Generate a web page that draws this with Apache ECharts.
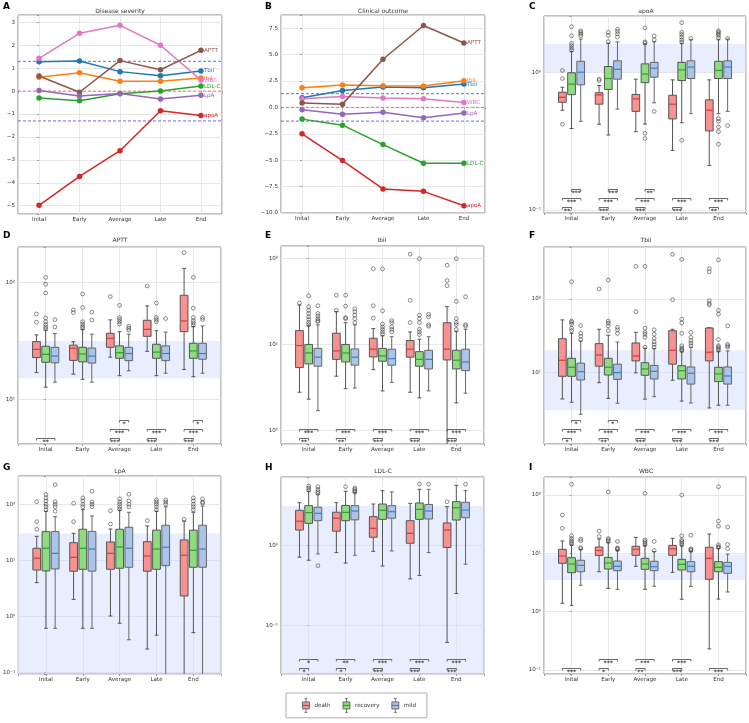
<!DOCTYPE html>
<html>
<head>
<meta charset="utf-8">
<script src="https://cdn.jsdelivr.net/npm/echarts@6/dist/echarts.min.js"></script>
<style>
html, body { margin: 0; padding: 0; background: #fff; }
#main { width: 749px; height: 723px; }
</style>
</head>
<body>
<div id="main"></div>
<script>
var stages = ['Inital', 'Early', 'Average', 'Late', 'End'];

// A - disease severity
var sevTbil = [1.28, 1.31, 0.85, 0.67, 0.88];
var sevIbil = [0.60, 0.80, 0.43, 0.43, 0.57];
var sevWBC = [1.43, 2.52, 2.87, 2.00, 0.48];
var sevAPTT = [0.66, -0.05, 1.33, 0.93, 1.78];
var sevLDLC = [-0.30, -0.42, -0.11, 0.00, 0.22];
var sevLpA = [0.03, -0.21, -0.10, -0.34, -0.18];
var sevApoA = [-4.98, -3.72, -2.60, -0.86, -1.06];

// B - clinical outcome
var outTbil = [0.92, 1.61, 1.93, 1.87, 2.21];
var outIbil = [1.87, 2.12, 2.06, 2.02, 2.53];
var outWBC = [0.82, 1.04, 0.88, 0.82, 0.47];
var outAPTT = [0.41, 0.31, 4.56, 7.76, 6.10];
var outLDLC = [-1.11, -1.68, -3.52, -5.29, -5.29];
var outLpA = [-0.22, -0.64, -0.45, -0.98, -0.54];
var outApoA = [-2.50, -5.04, -7.72, -7.95, -9.31];

var sigLevel = [1.3, -1.3];
var zeroLevel = [0];

// box stats: [min, q1, median, q3, max] per stage
var apoaDeath = [[0.53, 0.605, 0.658, 0.716, 0.778], [0.419, 0.586, 0.684, 0.71, 0.80], [0.37, 0.52, 0.64, 0.69, 0.89], [0.27, 0.458, 0.586, 0.68, 0.88], [0.21, 0.375, 0.53, 0.63, 0.88]];
var apoaRecovery = [[0.39, 0.687, 0.82, 0.99, 1.41], [0.35, 0.75, 0.90, 1.10, 1.62], [0.42, 0.84, 0.97, 1.15, 1.60], [0.43, 0.87, 1.04, 1.18, 1.62], [0.50, 0.90, 1.03, 1.20, 1.72]];
var apoaMild = [[0.44, 0.81, 1.0, 1.20, 1.74], [0.54, 0.89, 1.05, 1.21, 1.66], [0.60, 0.92, 1.07, 1.18, 1.66], [0.50, 0.90, 1.09, 1.21, 1.72], [0.52, 0.90, 1.09, 1.21, 1.74]];
var apoaDeathOut = [[0, 1.03], [0, 0.90], [0, 0.419], [1, 0.89], [1, 0.87]];
var apoaRecoveryOut = [[0, 2.14], [0, 1.84], [0, 1.62], [0, 1.56], [0, 1.5], [0, 1.45], [1, 1.95], [1, 1.85], [1, 1.67], [2, 2.1], [2, 1.66], [2, 1.63], [2, 0.36], [2, 0.33], [3, 2.29], [3, 1.95], [3, 1.88], [3, 1.8], [3, 1.72], [3, 1.66], [3, 0.32], [4, 2.0], [4, 1.95], [4, 1.9], [4, 1.85], [4, 1.78], [4, 0.46], [4, 0.44], [4, 0.40], [4, 0.37], [4, 0.30]];
var apoaMildOut = [[0, 2.0], [0, 1.95], [0, 1.9], [0, 1.84], [1, 2.05], [1, 1.98], [1, 1.9], [1, 1.8], [2, 1.83], [2, 1.72], [2, 0.52], [3, 1.76], [4, 1.76], [4, 0.41]];
var apoaBrackets = [[0, 'dr', '**'], [0, 'dm', '***'], [0, 'rm', '***'], [1, 'dr', '***'], [1, 'dm', '***'], [1, 'rm', '***'], [2, 'dr', '***'], [2, 'dm', '***'], [2, 'rm', '**'], [3, 'dr', '***'], [3, 'dm', '***'], [4, 'dr', '**'], [4, 'dm', '***']];
var apoaNormal = [1.0, 1.6];

var apttDeath = [[16.9, 22.7, 26.7, 31.1, 35.5], [16.4, 21.5, 27.3, 29, 31], [22.9, 27.8, 33.2, 36.6, 47.7], [25.7, 34.5, 39.6, 47.3, 62.7], [18.0, 37.8, 46.7, 77.4, 131.5]];
var apttRecovery = [[12.7, 20.7, 24.2, 28.4, 38.9], [14.8, 20.9, 24.4, 27.8, 39.6], [15.9, 22.4, 25, 28.6, 37.8], [15.9, 22.4, 25.3, 29.5, 38.5], [15.6, 22.4, 25.9, 30.1, 41.8]];
var apttMild = [[14, 20.5, 23.4, 27.8, 36.4], [14, 20.4, 23.4, 27.4, 36], [17.5, 21.4, 24.6, 27.8, 36], [16.7, 21.4, 24.6, 28.6, 37.5], [16.7, 22, 24.6, 30.1, 42.3]];
var apttDeathOut = [[0, 53.6], [0, 45.5], [1, 58], [1, 55], [2, 75.3], [3, 93], [4, 179]];
var apttRecoveryOut = [[0, 110], [0, 96], [0, 81], [0, 49.5], [0, 46], [0, 43.5], [0, 41.5], [0, 40], [1, 79.4], [1, 60.7], [1, 46], [1, 44], [1, 42], [1, 40.5], [2, 63.5], [2, 50], [2, 48], [2, 46], [2, 44], [3, 66.5], [3, 50], [3, 48], [3, 46], [4, 110], [4, 60], [4, 50], [4, 47], [4, 45], [4, 43]];
var apttMildOut = [[0, 47.9], [0, 41.5], [1, 55.5], [1, 47.5], [2, 42], [2, 40.5], [2, 39], [3, 48.9], [4, 50], [4, 48]];
var apttBrackets = [[0, 'dm', '**'], [2, 'dr', '***'], [2, 'dm', '***'], [2, 'rm', '*'], [3, 'dr', '***'], [3, 'dm', '***'], [4, 'dr', '***'], [4, 'dm', '***'], [4, 'rm', '*']];
var apttNormal = [15.1, 31.5];

var ibilDeath = [[2.77, 5.37, 9.7, 14.5, 28.8], [4.26, 6.7, 8.4, 13.5, 24.1], [5.08, 7.15, 8.8, 11.8, 15.3], [2.77, 7.1, 8.8, 11.1, 14], [0.3, 6.6, 8.8, 17.9, 27.6]];
var ibilRecovery = [[2.3, 5.93, 7.96, 10, 16.5], [3.05, 6.25, 7.96, 10, 17.9], [2.87, 6.37, 7.35, 9.0, 12.6], [2.38, 5.57, 6.7, 8.24, 11.5], [2.08, 5.18, 6.55, 8.55, 14.1]];
var ibilMild = [[1.69, 5.57, 7.1, 9.0, 16.9], [3.1, 5.73, 7.1, 8.87, 16.9], [3.62, 5.73, 6.83, 8.8, 12.3], [2.87, 5.18, 6.7, 8.55, 12.3], [2.7, 4.95, 6.25, 8.8, 15]];
var ibilDeathOut = [[0, 30.5], [1, 37.5], [1, 25], [2, 76.4], [2, 28.3], [2, 20.3], [3, 113], [3, 32.7], [3, 18], [4, 83.8], [4, 55.5], [4, 48.4]];
var ibilRecoveryOut = [[0, 37], [0, 27.6], [0, 25], [0, 23], [0, 21], [0, 19.5], [0, 18], [0, 17], [1, 37.5], [1, 28], [1, 20.5], [1, 20], [2, 76], [2, 24.7], [2, 17.3], [2, 16], [2, 15], [2, 14], [2, 13.2], [3, 100], [3, 22], [3, 20], [3, 18], [3, 15], [3, 14], [3, 13], [4, 100], [4, 31.8], [4, 20], [4, 18], [4, 17], [4, 15]];
var ibilMildOut = [[0, 28.3], [0, 23], [0, 21.5], [0, 20], [0, 19], [0, 18.5], [1, 26], [1, 24], [1, 22], [1, 20], [1, 18], [2, 19], [2, 18], [2, 16], [2, 15], [2, 14], [3, 22.5], [3, 21], [3, 17], [3, 16.3], [4, 36], [4, 17], [4, 16.3]];
var ibilBrackets = [[0, 'dr', '**'], [0, 'dm', '***'], [1, 'dr', '**'], [1, 'dm', '***'], [2, 'dr', '***'], [2, 'dm', '***'], [3, 'dr', '***'], [3, 'dm', '***'], [4, 'dr', '***'], [4, 'dm', '***']];
var ibilNormal = null;

var tbilDeath = [[4.32, 8.81, 14.6, 28.7, 51.8], [7.2, 12.1, 17.2, 24.6, 38.6], [9.8, 14.3, 16.7, 25.1, 35.1], [7.8, 12.9, 19.9, 36.9, 38.6], [3.26, 14.3, 18.8, 40.2, 40.5]];
var tbilRecovery = [[3.9, 8.81, 11.7, 15.5, 34], [4.4, 9.18, 11.7, 15.5, 32], [4.3, 9.1, 11.1, 13.5, 21.2], [4.05, 8.1, 10.5, 12.3, 19], [3.55, 7.45, 9.5, 11.7, 19.1]];
var tbilMild = [[2.67, 7.85, 10.2, 13.3, 26.7], [3.78, 8.0, 9.9, 12.9, 25.8], [4.65, 8.1, 10.3, 12.4, 21], [3.81, 6.9, 9.7, 11.8, 22], [3.55, 6.9, 8.9, 11.8, 19.5]];
var tbilDeathOut = [[1, 137], [2, 279], [2, 67.2], [3, 407], [3, 98], [4, 260], [4, 235], [4, 95], [4, 87], [4, 83]];
var tbilRecoveryOut = [[0, 172], [0, 50], [0, 48], [0, 45], [0, 40], [0, 37], [1, 181], [1, 50], [1, 47], [1, 43], [1, 37], [2, 279], [2, 40], [2, 35], [2, 33], [2, 30], [2, 22], [3, 347], [3, 53], [3, 47], [3, 34], [3, 23], [3, 21.5], [3, 20.5], [3, 19.8], [4, 343], [4, 70], [4, 62], [4, 28], [4, 23], [4, 22], [4, 21], [4, 20]];
var tbilMildOut = [[0, 43.3], [0, 34], [0, 31], [0, 28], [1, 41], [1, 38], [1, 34], [2, 38], [2, 33], [2, 29], [2, 26], [2, 24], [2, 22], [3, 35], [3, 30], [3, 27], [3, 25], [3, 23], [4, 43], [4, 24], [4, 23], [4, 22]];
var tbilBrackets = [[0, 'dr', '*'], [0, 'dm', '***'], [0, 'rm', '*'], [1, 'dr', '**'], [1, 'dm', '***'], [1, 'rm', '*'], [2, 'dr', '***'], [2, 'dm', '***'], [3, 'dr', '***'], [3, 'dm', '***'], [4, 'dr', '***'], [4, 'dm', '***']];
var tbilNormal = [3.06, 20];

var lpaDeath = [[3.98, 6.7, 10.9, 16.4, 26.8], [2.0, 6.37, 11.3, 20.6, 30.3], [1.01, 6.9, 13.3, 21.2, 36.2], [0.26, 6.37, 11.9, 21.5, 41], [0.05, 2.3, 12.3, 23.1, 50]];
var lpaRecovery = [[0.61, 6.44, 16.4, 32.5, 75], [0.61, 6.9, 16.4, 35.8, 80], [0.75, 7.2, 17.3, 35.8, 78], [0.46, 6.9, 15.9, 34.5, 75], [0.51, 7.5, 15.1, 34.5, 72]];
var lpaMild = [[0.61, 7.0, 13.3, 32.5, 60], [0.61, 6.4, 15.9, 32.8, 62], [0.38, 7.5, 16.4, 38.8, 72], [0.05, 8.0, 17.1, 42.2, 90], [0.05, 7.5, 15.9, 42.2, 93]];
var lpaDeathOut = [[0, 111], [0, 48.9], [0, 35.8], [1, 104], [1, 48.9], [2, 76.8], [2, 44.5], [3, 51], [4, 54]];
var lpaRecoveryOut = [[0, 150], [0, 130], [0, 115], [0, 100], [0, 90], [0, 80], [1, 130], [1, 115], [1, 100], [1, 90], [2, 125], [2, 110], [2, 100], [2, 90], [2, 82], [3, 120], [3, 110], [3, 100], [3, 90], [3, 80], [4, 130], [4, 115], [4, 100], [4, 90], [4, 80]];
var lpaMildOut = [[0, 224], [0, 111], [0, 100], [0, 90], [0, 75], [1, 171], [1, 110], [1, 100], [1, 90], [2, 151], [2, 115], [2, 100], [2, 90], [3, 120], [3, 110], [3, 100], [4, 125], [4, 110], [4, 105]];
var lpaBrackets = [];
var lpaNormal = [0.093, 30];

var ldlDeath = [[0.71, 1.55, 2.0, 2.74, 3.41], [0.81, 1.5, 2.18, 2.59, 3.41], [0.84, 1.26, 1.63, 2.28, 3.28], [0.38, 1.06, 1.41, 2.03, 3.34], [0.061, 0.94, 1.55, 1.9, 3.04]];
var ldlRecovery = [[0.65, 1.88, 2.56, 3.13, 4.73], [0.6, 2.03, 2.58, 3.15, 4.73], [0.55, 2.11, 2.74, 3.28, 4.82], [0.42, 2.11, 2.82, 3.38, 5.0], [0.25, 2.07, 2.95, 3.51, 5.62]];
var ldlMild = [[0.78, 2.03, 2.51, 2.99, 4.35], [0.75, 2.08, 2.68, 3.13, 4.55], [0.85, 2.18, 2.63, 3.13, 4.65], [0.81, 2.13, 2.68, 3.24, 5.0], [0.58, 2.21, 2.76, 3.45, 4.82]];
var ldlDeathOut = [[4, 3.5]];
var ldlRecoveryOut = [[0, 5.5], [0, 5.2], [0, 4.9], [1, 5.4], [3, 5.84]];
var ldlMildOut = [[0, 5.4], [0, 5.0], [0, 4.7], [0, 4.45], [0, 0.556], [1, 5.2], [1, 5.0], [1, 4.8], [1, 4.6], [3, 5.8], [4, 5.79]];
var ldlBrackets = [[0, 'dr', '*'], [0, 'dm', '*'], [1, 'dr', '*'], [1, 'dm', '**'], [2, 'dr', '***'], [2, 'dm', '***'], [3, 'dr', '***'], [3, 'dm', '***'], [4, 'dr', '***'], [4, 'dm', '***']];
var ldlNormal = [0.0246, 3.1];

var wbcDeath = [[1.39, 6.75, 9.0, 11.7, 16.3], [4.83, 9.2, 11.2, 12.8, 17.6], [5.98, 9.25, 11.7, 13.2, 18.8], [4.72, 9.25, 12.0, 13.7, 18.1], [0.229, 3.58, 8.2, 12.7, 21.4]];
var wbcRecovery = [[1.28, 4.65, 6.57, 8.4, 13.9], [2.51, 5.38, 6.83, 8.5, 15.2], [2.41, 5.32, 6.57, 8.2, 13.5], [1.63, 5.18, 6.47, 7.89, 13.5], [1.64, 4.83, 5.75, 7.2, 12.2]];
var wbcMild = [[2.83, 4.83, 6.22, 7.6, 11.7], [2.41, 5.04, 5.98, 7.38, 11.1], [2.72, 5.04, 5.9, 7.3, 10.7], [2.7, 4.83, 5.98, 7.2, 10.7], [2.17, 4.54, 5.98, 7.0, 9.7]];
var wbcDeathOut = [[0, 45.4], [0, 26.9], [1, 24.1], [1, 19.5]];
var wbcRecoveryOut = [[0, 153], [0, 20], [0, 18], [0, 16.5], [0, 15.5], [0, 14.5], [1, 113], [1, 18], [1, 17], [1, 16], [2, 107], [2, 17], [2, 16], [2, 15], [2, 14], [3, 100], [3, 20], [3, 17], [3, 16], [3, 15], [3, 14], [4, 139], [4, 35.8], [4, 29.2], [4, 14], [4, 13], [4, 12.6]];
var wbcMildOut = [[0, 17.6], [0, 16.5], [0, 12.5], [0, 12.1], [1, 16], [1, 12.4], [1, 12], [1, 11.6], [2, 16], [2, 11.2], [3, 20.4], [3, 12], [3, 11.6], [3, 11.2], [4, 28.3], [4, 14.2], [4, 12]];
var wbcBrackets = [[0, 'dm', '***'], [1, 'dr', '*'], [1, 'dm', '***'], [2, 'dr', '**'], [2, 'dm', '***'], [3, 'dr', '***'], [3, 'dm', '***'], [4, 'dm', '***']];
var wbcNormal = [3.5, 9.5];

// ---------------------------------------------------------------
var FONT = 'DejaVu Sans';
var BOX_W = 0.21;
var PAIRS = { dr: [-0.25, 0], dm: [-0.25, 0.25], rm: [0, 0.25] };
var hues = [
  { name: 'death', shift: -0.25, fill: '#f99191', mid: '#e0363c', edge: '#555555' },
  { name: 'recovery', shift: 0, fill: '#8fdc80', mid: '#2f9e2f', edge: '#555555' },
  { name: 'mild', shift: 0.25, fill: '#abc5ea', mid: '#3b7fd0', edge: '#666666' }
];
var SUP = { '-': '\u207b', '0': '\u2070', '1': '\u00b9', '2': '\u00b2', '3': '\u00b3' };

function powLabel(v) {
  var l = Math.log(v) / Math.LN10, e = Math.round(l);
  if (Math.abs(l - e) > 1e-6) return '';
  return '10' + String(e).split('').map(function (c) { return SUP[c] || c; }).join('');
}
function minus(s) { return String(s).replace('-', '\u2212'); }

var grids = [], xAxes = [], yAxes = [], series = [], graphics = [];

function addGrid(g) {
  grids.push({ left: g[0], top: g[1], width: g[2], height: g[3], show: true,
    borderColor: '#666', borderWidth: 0.8, backgroundColor: 'transparent' });
  return grids.length - 1;
}
function addX(gi, lo, hi) {
  xAxes.push({ type: 'value', gridIndex: gi, min: lo, max: hi, splitNumber: 5,
    axisLine: { show: false },
    axisTick: { show: true, length: 2, lineStyle: { color: '#666', width: 0.6 } },
    axisLabel: { fontSize: 5.6, color: '#333', margin: 3, fontFamily: FONT,
      formatter: function (v) {
        var r = Math.round(v);
        return (Math.abs(v - r) < 1e-6 && r >= 0 && r < stages.length) ? stages[r] : '';
      } },
    splitLine: { show: true, lineStyle: { color: '#e2e2e2', width: 0.8 } } });
}
function addTitle(x, y, text) {
  graphics.push({ type: 'text', style: { text: text, x: x, y: y, textAlign: 'center', align: 'center',
    textVerticalAlign: 'middle', verticalAlign: 'middle', font: '6px ' + FONT, fill: '#333' } });
}
function addLetter(x, y, text) {
  graphics.push({ type: 'text', style: { text: text, x: x, y: y, textAlign: 'left', align: 'left',
    textVerticalAlign: 'middle', verticalAlign: 'middle', font: 'bold 9px ' + FONT, fill: '#000' } });
}
// dashed horizontal reference lines across the whole plot
function refLines(gi, values, color) {
  series.push({ type: 'custom', name: 'ref' + gi + color, xAxisIndex: gi, yAxisIndex: gi, z: 1, silent: true,
    data: values.map(function (v) { return [0, v]; }),
    renderItem: function (params, api) {
      var cs = params.coordSys;
      var y = api.coord([0, api.value(1)])[1];
      return { type: 'line', shape: { x1: cs.x, y1: y, x2: cs.x + cs.width, y2: y },
        style: { stroke: color, lineWidth: 0.8, lineDash: [3, 2] } };
    } });
}

// line panels
var lineColors = { Tbil: '#1f77b4', Ibil: '#ff7f0e', WBC: '#e377c2', APTT: '#8c564b', 'LDL-C': '#2ca02c', LpA: '#9467bd', apoA: '#d62728' };
var linePanels = [
  { title: 'Disease severity', letter: 'A', grid: [18, 15, 204, 199], y: [-5.36, 3.32], step: 1, tx: 120, ty: 11, lx: 3, ly: 7,
    lines: { Tbil: sevTbil, Ibil: sevIbil, WBC: sevWBC, APTT: sevAPTT, 'LDL-C': sevLDLC, LpA: sevLpA, apoA: sevApoA } },
  { title: 'Clinical outcome', letter: 'B', grid: [281, 15, 204, 198], y: [-10, 8.75], step: 2.5, tx: 383, ty: 11, lx: 265, ly: 7,
    lines: { Tbil: outTbil, Ibil: outIbil, WBC: outWBC, APTT: outAPTT, 'LDL-C': outLDLC, LpA: outLpA, apoA: outApoA } }
];

linePanels.forEach(function (p) {
  var gi = addGrid(p.grid);
  addX(gi, -0.52, 4.52);
  var yAx = { type: 'value', gridIndex: gi, min: p.y[0], max: p.y[1],
    axisLine: { show: false },
    axisTick: { show: true, length: 2, lineStyle: { color: '#666', width: 0.6 } },
    axisLabel: { fontSize: 5.6, color: '#333', margin: 3, fontFamily: FONT,
      formatter: function (v) {
        var k = v / p.step, r = Math.round(k);
        if (Math.abs(k - r) > 1e-6) return '';
        return minus(p.step === 1 ? String(Math.round(v)) : v.toFixed(1));
      } },
    splitLine: { show: true, lineStyle: { color: '#e2e2e2', width: 0.8 } } };
  if (p.step === 1) { yAx.splitNumber = 8; } else { yAx.interval = p.step; }
  yAxes.push(yAx);
  refLines(gi, sigLevel, '#4343ff');
  refLines(gi, zeroLevel, '#ff4d4d');
  Object.keys(p.lines).forEach(function (name) {
    var c = lineColors[name];
    series.push({ type: 'line', name: name, xAxisIndex: gi, yAxisIndex: gi, z: 3,
      data: p.lines[name].map(function (v, i) { return [i, v]; }),
      symbol: 'circle', symbolSize: 5.5, lineStyle: { width: 1.5, color: c }, itemStyle: { color: c },
      endLabel: { show: true, formatter: '{a}', color: c, fontSize: 5.6, fontFamily: FONT, distance: 3 } });
  });
  addTitle(p.tx, p.ty, p.title);
  addLetter(p.lx, p.ly, p.letter);
});

// box panels
var boxPanels = [
  { title: 'apoA', letter: 'C', grid: [544, 16, 204, 197], y: [0.095, 2.56], tx: 646, ty: 11, lx: 529, ly: 7,
    stats: [apoaDeath, apoaRecovery, apoaMild], outs: [apoaDeathOut, apoaRecoveryOut, apoaMildOut], br: apoaBrackets, band: apoaNormal },
  { title: 'APTT', letter: 'D', grid: [18, 247, 203, 197], y: [4.15, 200], tx: 120, ty: 240, lx: 3, ly: 236,
    stats: [apttDeath, apttRecovery, apttMild], outs: [apttDeathOut, apttRecoveryOut, apttMildOut], br: apttBrackets, band: apttNormal },
  { title: 'Ibil', letter: 'E', grid: [281, 246, 203, 198], y: [0.69, 140.6], tx: 382, ty: 240, lx: 265, ly: 236,
    stats: [ibilDeath, ibilRecovery, ibilMild], outs: [ibilDeathOut, ibilRecoveryOut, ibilMildOut], br: ibilBrackets, band: ibilNormal },
  { title: 'Tbil', letter: 'F', grid: [544, 247, 204, 197], y: [1.05, 512], tx: 646, ty: 240, lx: 529, ly: 236,
    stats: [tbilDeath, tbilRecovery, tbilMild], outs: [tbilDeathOut, tbilRecoveryOut, tbilMildOut], br: tbilBrackets, band: tbilNormal },
  { title: 'LpA', letter: 'G', grid: [18, 476, 203, 198], y: [0.093, 320], tx: 120, ty: 471, lx: 3, ly: 468,
    stats: [lpaDeath, lpaRecovery, lpaMild], outs: [lpaDeathOut, lpaRecoveryOut, lpaMildOut], br: lpaBrackets, band: lpaNormal },
  { title: 'LDL-C', letter: 'H', grid: [281, 477, 203, 197], y: [0.0246, 7.14], tx: 383, ty: 471, lx: 265, ly: 468,
    stats: [ldlDeath, ldlRecovery, ldlMild], outs: [ldlDeathOut, ldlRecoveryOut, ldlMildOut], br: ldlBrackets, band: ldlNormal },
  { title: 'WBC', letter: 'I', grid: [544, 477, 204, 197], y: [0.085, 204], tx: 646, ty: 471, lx: 529, ly: 468,
    stats: [wbcDeath, wbcRecovery, wbcMild], outs: [wbcDeathOut, wbcRecoveryOut, wbcMildOut], br: wbcBrackets, band: wbcNormal }
];

function boxItem(h) {
  return function (params, api) {
    var x = api.value(0) + h.shift;
    var c = function (v) { return api.coord([x, v]); };
    var lo = c(api.value(1)), q1 = c(api.value(2)), md = c(api.value(3)), q3 = c(api.value(4)), hi = c(api.value(5));
    var left = api.coord([x - BOX_W / 2, api.value(3)])[0], right = api.coord([x + BOX_W / 2, api.value(3)])[0];
    var cx = lo[0], cap = (right - left) / 4;
    var ls = { stroke: h.edge, lineWidth: 1 };
    return { type: 'group', children: [
      { type: 'line', shape: { x1: cx, y1: lo[1], x2: cx, y2: q1[1] }, style: ls },
      { type: 'line', shape: { x1: cx, y1: q3[1], x2: cx, y2: hi[1] }, style: ls },
      { type: 'line', shape: { x1: cx - cap, y1: lo[1], x2: cx + cap, y2: lo[1] }, style: ls },
      { type: 'line', shape: { x1: cx - cap, y1: hi[1], x2: cx + cap, y2: hi[1] }, style: ls },
      { type: 'rect', shape: { x: left, y: q3[1], width: right - left, height: q1[1] - q3[1] },
        style: { fill: h.fill, stroke: h.edge, lineWidth: 1 } },
      { type: 'line', shape: { x1: left + 0.5, y1: md[1], x2: right - 0.5, y2: md[1] }, style: { stroke: h.mid, lineWidth: 1.2 } }
    ] };
  };
}

function bracketItem(list) {
  return function (params, api) {
    var b = list[params.dataIndex];
    var g = api.value(0), lev = api.value(1) - 1;
    var ends = PAIRS[b[1]];
    var cs = params.coordSys;
    var y = cs.y + cs.height - 5.5 - 9 * lev;
    var xa = api.coord([g + ends[0], 1])[0], xb = api.coord([g + ends[1], 1])[0];
    var ls = { stroke: '#444', lineWidth: 0.8 };
    return { type: 'group', children: [
      { type: 'line', shape: { x1: xa, y1: y, x2: xb, y2: y }, style: ls },
      { type: 'line', shape: { x1: xa, y1: y, x2: xa, y2: y + 2 }, style: ls },
      { type: 'line', shape: { x1: xb, y1: y, x2: xb, y2: y + 2 }, style: ls },
      { type: 'text', style: { text: b[2], x: (xa + xb) / 2, y: y + 0.5, textAlign: 'center', align: 'center',
        textVerticalAlign: 'top', verticalAlign: 'top', font: 'bold 6px ' + FONT, fill: '#333' } }
    ] };
  };
}

boxPanels.forEach(function (p) {
  var gi = addGrid(p.grid);
  addX(gi, -0.75, 4.75);
  yAxes.push({ type: 'log', logBase: 10, gridIndex: gi, min: p.y[0], max: p.y[1],
    axisLine: { show: false },
    axisTick: { show: true, length: 2, lineStyle: { color: '#666', width: 0.6 } },
    axisLabel: { fontSize: 5.6, color: '#333', margin: 3, fontFamily: FONT, formatter: powLabel },
    splitLine: { show: true, lineStyle: { color: '#e2e2e2', width: 0.8 } } });
  if (p.band) {
    series.push({ type: 'scatter', name: 'band' + gi, xAxisIndex: gi, yAxisIndex: gi, data: [], z: 0,
      markArea: { silent: true, itemStyle: { color: 'rgba(205,218,250,0.45)' },
        data: [[{ yAxis: p.band[0] }, { yAxis: p.band[1] }]] } });
  }
  hues.forEach(function (h, k) {
    series.push({ type: 'custom', name: h.name, xAxisIndex: gi, yAxisIndex: gi, clip: true, z: 2,
      itemStyle: { color: h.fill },
      data: p.stats[k].map(function (s, i) { return [i].concat(s); }),
      encode: { x: 0, y: [1, 2, 3, 4, 5] },
      renderItem: boxItem(h) });
    series.push({ type: 'scatter', name: h.name + ' outliers', xAxisIndex: gi, yAxisIndex: gi, z: 3,
      symbol: 'circle', symbolSize: 3.8,
      itemStyle: { color: 'rgba(255,255,255,0)', borderColor: '#333', borderWidth: 0.7 },
      data: p.outs[k].map(function (o) { return [o[0] + h.shift, o[1]]; }) });
  });
  if (p.br.length) {
    var count = {};
    var bdata = p.br.map(function (b) {
      var lev = count[b[0]] || 0;
      count[b[0]] = lev + 1;
      return [b[0], lev + 1];
    });
    series.push({ type: 'custom', name: 'sig' + gi, xAxisIndex: gi, yAxisIndex: gi, z: 4,
      data: bdata, encode: { x: 0, y: 1 }, renderItem: bracketItem(p.br) });
  }
  addTitle(p.tx, p.ty, p.title);
  addLetter(p.lx, p.ly, p.letter);
});

var BOXICON = 'path://M3,0H7M5,0V5M0,5H10V15H0ZM0,10H10M5,15V20M3,20H7';

var option = {
  animation: false,
  backgroundColor: '#fff',
  textStyle: { fontFamily: FONT },
  grid: grids,
  xAxis: xAxes,
  yAxis: yAxes,
  legend: {
    left: 286, top: 693, orient: 'horizontal', selectedMode: false,
    padding: [5, 11, 5, 16], itemGap: 12, itemWidth: 7, itemHeight: 18,
    borderColor: '#999', borderWidth: 0.8,
    itemStyle: { borderColor: '#555', borderWidth: 0.8 },
    textStyle: { fontSize: 5.6, color: '#333', width: 36, fontFamily: FONT },
    data: hues.map(function (h) { return { name: h.name, icon: BOXICON }; })
  },
  graphic: graphics,
  series: series
};

var chart = echarts.init(document.getElementById('main'));
chart.setOption(option);
</script>
</body>
</html>
